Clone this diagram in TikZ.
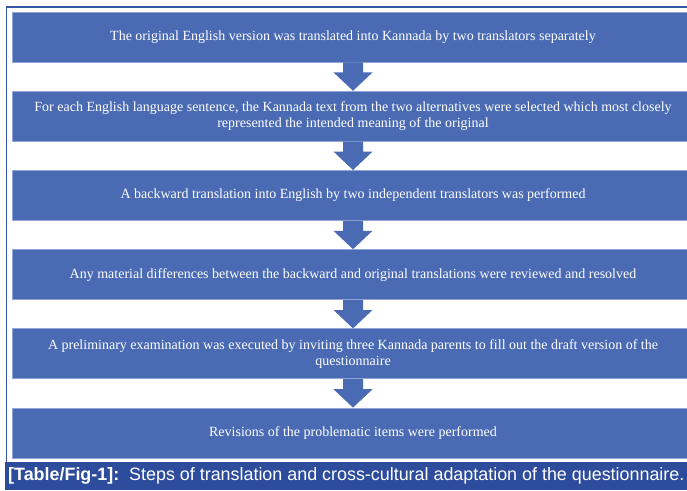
\documentclass[tikz,border=0pt]{standalone}
\usepackage{fontspec}
\setmainfont{Liberation Serif}
\newfontfamily\capfont{Liberation Sans}
\usetikzlibrary{calc}

\definecolor{boxblue}{HTML}{4A6BB3}
\definecolor{boxedge}{HTML}{8FA6D6}
\definecolor{capblue}{HTML}{2D4C9C}
\definecolor{frameblue}{HTML}{3556A6}

\tikzstyle{stepbox} = [fill=boxblue, draw=boxedge, line width=0.8pt, minimum width=682pt, minimum height=50pt, inner sep=0pt, text=white, align=center, font=\fontsize{14}{16}\selectfont]

\begin{document}
\begin{tikzpicture}[x=1pt,y=-1pt]
			\useasboundingbox (0,0) rectangle (687,490);
			\clip (0,0) rectangle (687,490);
			 % outer frame
			 \draw [frameblue, line width=1.5pt] (6.5,462) -- (6.5,7) -- (687,7);
			 \node[stepbox] (s1) at (353,37) {The original English version was translated into Kannada by two translators separately};
			 \node[stepbox] (s2) at (353,116.2) {For each English language sentence, the Kannada text from the two alternatives were selected which most closely\\represented the intended meaning of the original};
			 \node[stepbox] (s3) at (353,195.4) {A backward translation into English by two independent translators was performed};
			 \node[stepbox] (s4) at (353,274.6) {Any material differences between the backward and original translations were reviewed and resolved};
			 \node[stepbox] (s5) at (353,353.8) {A preliminary examination was executed by inviting three Kannada parents to fill out the draft version of the\\questionnaire};
			 \node[stepbox] (s6) at (353,433) {Revisions of the problematic items were performed};
			 \foreach \a/\b in {s1/s2,s2/s3,s3/s4,s4/s5,s5/s6} {
			 \fill[boxblue] ($(\a.south)+(-10,0)$) -- ($(\a.south)+(-10,10)$) -- ($(\a.south)+(-19.5,10)$)
			 -- (\b.north) -- ($(\a.south)+(19.5,10)$) -- ($(\a.south)+(10,10)$) -- ($(\a.south)+(10,0)$) -- cycle;
			 }
			 % caption
			 \fill[capblue] (5,462) rectangle (687,490);
			 \node[anchor=west, text=white, inner sep=0pt, font=\capfont\fontsize{17.9}{20}\selectfont] (caption) at (8,476) {\textbf{[Table/Fig-1]:}\ \ Steps of translation and cross-cultural adaptation of the questionnaire.};
			\end{tikzpicture}
\end{document}
